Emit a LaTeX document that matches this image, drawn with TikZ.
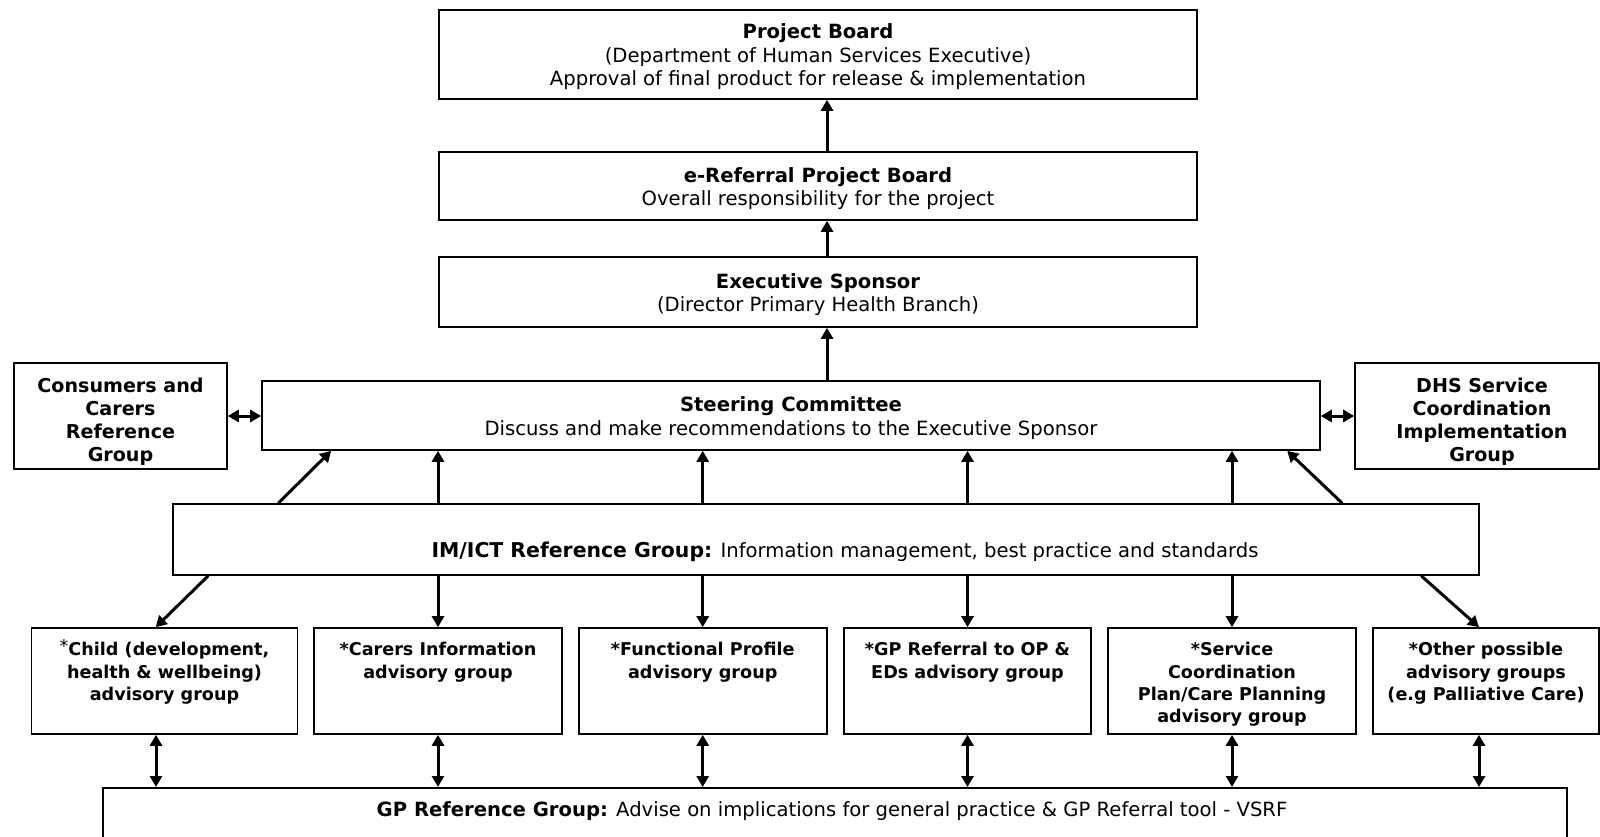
\documentclass[tikz,border=0pt]{standalone}
\usepackage{fontspec}
\setmainfont{DejaVu Sans}
\usetikzlibrary{arrows.meta,calc}
\newcommand{\rgfont}{\fontsize{19.6}{23.5}\selectfont}
\newcommand{\sidefont}{\bfseries\fontsize{19.1}{23}\selectfont}
\newcommand{\advfont}{\bfseries\fontsize{17.6}{22.3}\selectfont}
\newcommand{\topstrut}{\rule{0pt}{20pt}}
\newcommand{\sidestrut}{\rule{0pt}{25.5pt}}
\begin{document}
\begin{tikzpicture}[x=1pt,y=-1pt,
  box/.style={draw=black, line width=1.6pt, inner sep=0pt, fill=white, align=center},
  topbox/.style={box, font=\rgfont, minimum width=758pt},
  sidebox/.style={box, font=\sidefont, minimum height=106pt},
  advbox/.style={box, minimum height=106pt},
  advtext/.style={inner sep=0pt, align=center, font=\advfont, anchor=north},
  arr/.style={line width=3pt, -{Triangle[length=11pt,width=12pt]}},
  darr/.style={line width=3pt, {Triangle[length=11pt,width=12pt]}-{Triangle[length=11pt,width=12pt]}}]
\useasboundingbox (0,0) rectangle (1600,837);
\clip (0,0) rectangle (1600,837);

% top chain
\node[topbox, minimum height=89pt] (pb) at (818,54.5)
  {\topstrut\textbf{Project Board}\\(Department of Human Services Executive)\\Approval of final product for release \& implementation};
\node[topbox, minimum height=68pt] (erp) at (818,186)
  {\topstrut\textbf{e-Referral Project Board}\\Overall responsibility for the project};
\node[topbox, minimum height=70pt] (es) at (818,292)
  {\topstrut\textbf{Executive Sponsor}\\(Director Primary Health Branch)};
\node[box, font=\rgfont, minimum width=1058pt, minimum height=69pt] (sc) at (791,415.5)
  {\topstrut\textbf{Steering Committee}\\Discuss and make recommendations to the Executive Sponsor};

% side boxes
\node[sidebox, minimum width=213pt] (ccrg) at (120.5,416)
  {\sidestrut Consumers and\\Carers\\Reference\\Group};
\node[sidebox, minimum width=244pt] (dhs) at (1477,416)
  {\sidestrut\hspace*{10pt}DHS Service\\\hspace*{10pt}Coordination\\\hspace*{10pt}Implementation\\\hspace*{10pt}Group};

% IM/ICT
\node[box, minimum width=1306pt, minimum height=71pt] (im) at (826,539.5) {};
\node[inner sep=0pt, font=\rgfont] (imtext) at (845,552)
  {{\bfseries\fontsize{20.4}{23.5}\selectfont IM/ICT Reference Group:} Information management, best practice and standards};

% advisory boxes
\node[advbox, minimum width=266pt] (child) at (164.5,681) {};
\node[advbox, minimum width=248pt] (carers) at (438,681) {};
\node[advbox, minimum width=248pt] (func) at (702.7,681) {};
\node[advbox, minimum width=247pt] (gpop) at (967.5,681) {};
\node[advbox, minimum width=248pt] (serv) at (1232,681) {};
\node[advbox, minimum width=226pt] (other) at (1486,681) {};

\node[advtext] (childt) at ([yshift=-15pt]child.north)
  {{\mdseries\raisebox{3pt}[0pt][0pt]{*}}Child (development,\\health \& wellbeing)\\advisory group};
\node[advtext] (carerst) at ([yshift=-15pt]carers.north)
  {*Carers Information\\advisory group};
\node[advtext] (funct) at ([yshift=-15pt]func.north)
  {*Functional Profile\\advisory group};
\node[advtext] (gpopt) at ([yshift=-15pt]gpop.north)
  {*GP Referral to OP \&\\EDs advisory group};
\node[advtext] (servt) at ([yshift=-15pt]serv.north)
  {*Service\\Coordination\\Plan/Care Planning\\advisory group};
\node[advtext] (othert) at ([yshift=-15pt]other.north)
  {*Other possible\\advisory groups\\(e.g Palliative Care)};

% GP reference group
\node[box, minimum width=1464pt, minimum height=90pt, anchor=north] (gpr) at (835,787) {};
\node[inner sep=0pt, font=\rgfont] (gprtext) at (832,811)
  {\textbf{GP Reference Group:} Advise on implications for general practice \& GP Referral tool - VSRF};

% helper x coordinates
\coordinate (xt) at (827,0);
\coordinate (xc) at (156,0);
\coordinate (xo) at (1479,0);

% top arrows
\draw[arr] (xt |- erp.north) -- (xt |- pb.south);
\draw[arr] (xt |- es.north) -- (xt |- erp.south);
\draw[arr] (xt |- sc.north) -- (xt |- es.south);

% side double arrows
\draw[darr] (ccrg.east) -- (ccrg.east -| sc.west);
\draw[darr] (sc.east |- dhs.west) -- (dhs.west);

% IM/ICT links
\foreach \b in {carers,func,gpop,serv}{
  \draw[arr] (\b.center |- im.north) -- (\b.center |- sc.south);
  \draw[arr] (\b.center |- im.south) -- (\b.center |- \b.north);
  \draw[darr] (\b.center |- \b.south) -- (\b.center |- gpr.north);
}
\draw[arr] ($(im.north west)+(106,0)$) -- ($(sc.south west)+(70,0)$);
\draw[arr] ($(im.north west)+(1170,0)$) -- ($(sc.south west)+(1026,0)$);
\draw[arr] ($(im.south west)+(36,0)$) -- ($(child.north west)+(125,0)$);
\draw[arr] ($(im.south west)+(1249,0)$) -- (xo |- other.north);

\draw[darr] (xc |- child.south) -- (xc |- gpr.north);
\draw[darr] (xo |- other.south) -- (xo |- gpr.north);
\end{tikzpicture}
\end{document}
